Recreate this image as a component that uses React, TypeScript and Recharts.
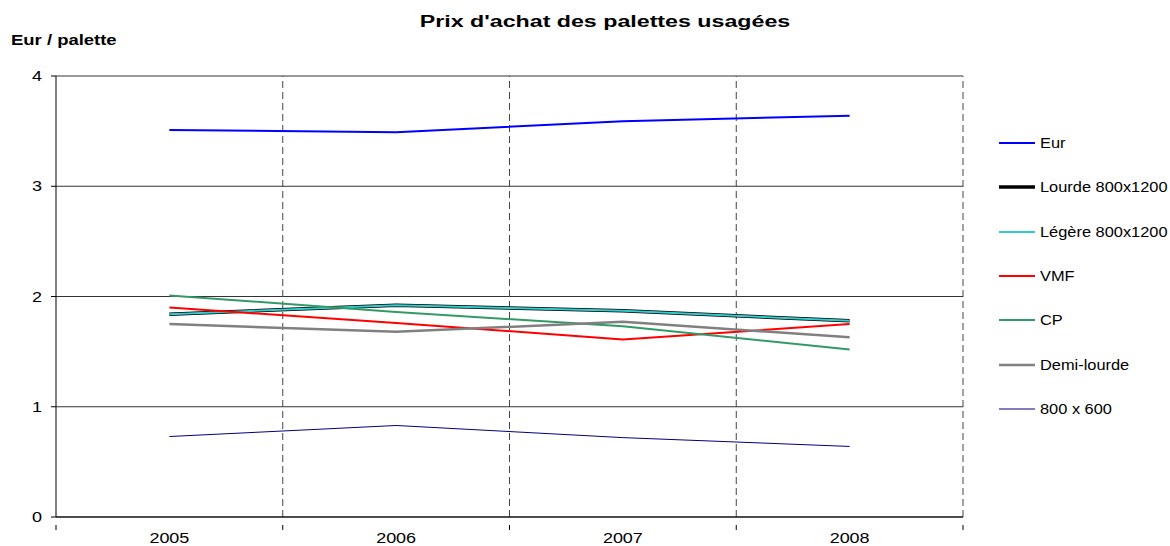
import { LineChart, Line, XAxis, YAxis, CartesianGrid, ReferenceLine, Legend } from 'recharts';

const years = [2005, 2006, 2007, 2008];
const eur = [3.51, 3.49, 3.59, 3.64];
const lourde = [1.84, 1.92, 1.87, 1.78];
const legere = [1.84, 1.92, 1.87, 1.78];
const vmf = [1.9, 1.76, 1.61, 1.75];
const cp = [2.01, 1.86, 1.73, 1.52];
const demiLourde = [1.75, 1.68, 1.77, 1.63];
const p800x600 = [0.73, 0.83, 0.72, 0.64];

const yTicks = [0, 1, 2, 3, 4];
const edges = [2004.5, 2005.5, 2006.5, 2007.5, 2008.5];

const series = [
  { key: 'eur', name: 'Eur', values: eur, color: '#0000ff', width: 2 },
  { key: 'lourde', name: 'Lourde 800x1200', values: lourde, color: '#000000', width: 3.5 },
  { key: 'legere', name: 'Légère 800x1200', values: legere, color: '#33cccc', width: 2 },
  { key: 'vmf', name: 'VMF', values: vmf, color: '#ff0000', width: 2 },
  { key: 'cp', name: 'CP', values: cp, color: '#339966', width: 2 },
  { key: 'demi', name: 'Demi-lourde', values: demiLourde, color: '#808080', width: 2.5 },
  { key: 'small', name: '800 x 600', values: p800x600, color: '#000080', width: 1 },
];

const data = years.map((y, i) => {
  const row: any = { year: y };
  series.forEach(s => { row[s.key] = s.values[i]; });
  return row;
});

const font = '"Liberation Sans", Arial, sans-serif';

function XTick(props: any) {
  const { x, y, payload } = props;
  if (Number.isInteger(payload.value)) {
    return (
      <text transform={`translate(${x},543) scale(1.2,1)`} textAnchor="middle" fontSize={15} fill="#000" fontFamily={font}>
        {payload.value}
      </text>
    );
  }
  return <line x1={x} y1={y} x2={x} y2={y + 5} stroke="#000" />;
}

function YTick(props: any) {
  const { x, y, payload } = props;
  return (
    <text transform={`translate(${x},${y + 5}) scale(1.2,1)`} textAnchor="end" fontSize={15} fill="#000" fontFamily={font}>
      {payload.value}
    </text>
  );
}

function LegendBox() {
  return (
    <div style={{ fontFamily: font, fontSize: 14 }}>
      {series.map(s => (
        <div key={s.key} style={{ display: 'flex', alignItems: 'center', height: 44.3, whiteSpace: 'nowrap' }}>
          <svg width={38} height={8} style={{ marginRight: 4 }}>
            <line x1={1} y1={4} x2={37} y2={4} stroke={s.color} strokeWidth={s.width} />
          </svg>
          <span style={{ display: 'inline-block', transform: 'scaleX(1.17)', transformOrigin: 'left center' }}>{s.name}</span>
        </div>
      ))}
    </div>
  );
}

export default function App() {
  const xTicks = [2004.5, 2005, 2005.5, 2006, 2006.5, 2007, 2007.5, 2008, 2008.5];
  return (
    <div style={{ position: 'absolute', left: 0, top: 0, width: 1170, height: 546, background: '#fff', fontFamily: font, overflow: 'hidden' }}>
      <div style={{ position: 'absolute', left: 405, width: 400, top: 13, textAlign: 'center', fontWeight: 'bold', fontSize: 16, transform: 'scaleX(1.45)', whiteSpace: 'nowrap' }}>
        Prix d'achat des palettes usagées
      </div>
      <div style={{ position: 'absolute', left: 11, top: 31, fontWeight: 'bold', fontSize: 15, transform: 'scaleX(1.23)', transformOrigin: 'left center', whiteSpace: 'nowrap' }}>
        Eur / palette
      </div>
      <LineChart width={1170} height={546} data={data} margin={{ top: 76, right: 207, bottom: 0, left: 0 }}>
        <CartesianGrid vertical={false} stroke="#000" strokeOpacity={0.8} />
        {edges.slice(1).map(e => (
          <ReferenceLine key={e} x={e} stroke="#444" strokeDasharray="7 4" />
        ))}
        <XAxis
          dataKey="year"
          type="number"
          domain={[2004.5, 2008.5]}
          ticks={xTicks}
          interval={0}
          tickLine={false}
          tick={<XTick />}
          axisLine={{ stroke: '#000' }}
          height={29}
        />
        <YAxis
          domain={[0, 4]}
          ticks={yTicks}
          width={56}
          tickSize={5}
          tickMargin={9}
          tick={<YTick />}
          stroke="#000"
        />
        <Legend
          layout="vertical"
          align="center"
          verticalAlign="middle"
          content={<LegendBox />}
          wrapperStyle={{ left: 998, top: 121, width: 172 }}
        />
        {series.map(s => (
          <Line
            key={s.key}
            dataKey={s.key}
            name={s.name}
            stroke={s.color}
            strokeWidth={s.width}
            dot={false}
            activeDot={false}
            type="linear"
            isAnimationActive={false}
          />
        ))}
      </LineChart>
    </div>
  );
}
